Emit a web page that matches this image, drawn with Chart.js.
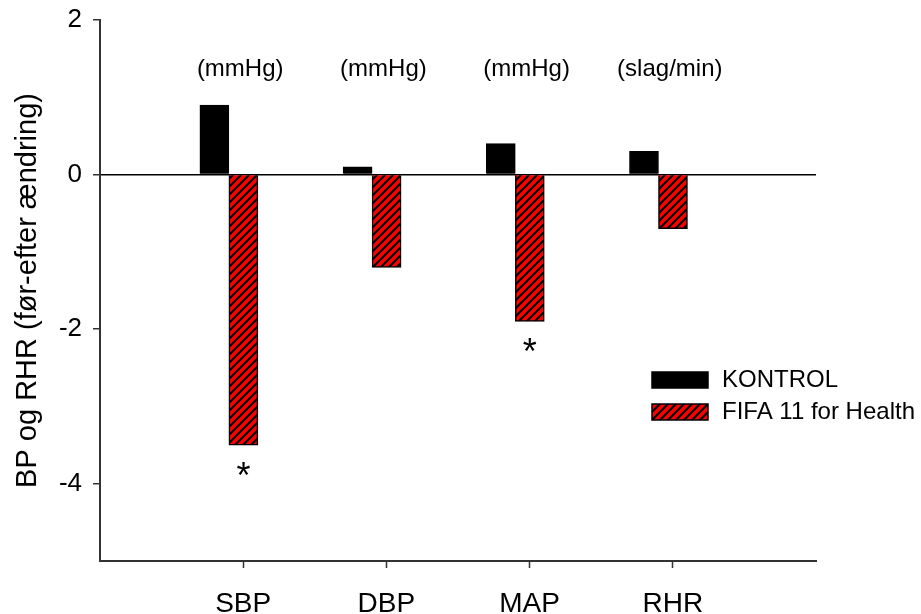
<!DOCTYPE html>
<html>
<head>
<meta charset="utf-8">
<script src="https://cdn.jsdelivr.net/npm/chart.js@4.4.0/dist/chart.umd.min.js"></script>
<style>
  body { margin: 0; background: #fff; }
  #wrap { width: 921px; height: 614px; }
</style>
</head>
<body>
<div id="wrap"><canvas id="chart" width="921" height="614"></canvas></div>
<script>
// blood pressure / resting heart rate change, control vs FIFA 11 group
const categories = ['SBP', 'DBP', 'MAP', 'RHR'];
const units = ['(mmHg)', '(mmHg)', '(mmHg)', '(slag/min)'];
const seriesNames = ['KONTROL', 'FIFA 11 for Health'];
const kontrol = [0.9, 0.1, 0.4, 0.3];
const fifa = [-3.5, -1.2, -1.9, -0.7];
const fifaStars = ['*', '', '*', ''];
const yTicks = [2, 0, -2, -4];

const FONT = '"Liberation Sans", Arial, sans-serif';
const AXIS = '#333';

// red fill with black "/" stripes
function hatch() {
  const c = document.createElement('canvas');
  c.width = 8; c.height = 8;
  const g = c.getContext('2d');
  g.fillStyle = '#ff0000';
  g.fillRect(0, 0, 8, 8);
  g.strokeStyle = '#000';
  g.lineWidth = 2.2;
  g.beginPath();
  g.moveTo(-1, 9); g.lineTo(9, -1);
  g.moveTo(-1, 1); g.lineTo(1, -1);
  g.moveTo(7, 9); g.lineTo(9, 7);
  g.stroke();
  return g.createPattern(c, 'repeat');
}
const redHatch = hatch();

const extras = {
  id: 'extras',
  afterDatasetsDraw(chart) {
    const ctx = chart.ctx;
    const xs = chart.scales.x;
    const area = chart.chartArea;
    ctx.save();
    ctx.fillStyle = '#000';

    // unit captions above each group
    ctx.font = `24px ${FONT}`;
    ctx.textAlign = 'center';
    ctx.textBaseline = 'middle';
    units.forEach((u, i) => ctx.fillText(u, xs.getPixelForValue(i + 1) - 3, area.top + 49));

    // significance marks under the FIFA bars
    const meta = chart.getDatasetMeta(1);
    ctx.font = `36px ${FONT}`;
    ctx.textBaseline = 'alphabetic';
    fifaStars.forEach((s, i) => {
      if (!s) return;
      const bar = meta.data[i];
      const m = ctx.measureText(s);
      const cy = bar.y + 24;
      ctx.fillText(s, bar.x, cy + (m.actualBoundingBoxAscent - m.actualBoundingBoxDescent) / 2);
    });

    // legend
    const lx = area.right - 164;
    const rows = [area.top + 360, area.top + 392];
    ctx.font = `24px ${FONT}`;
    ctx.textAlign = 'left';
    ctx.textBaseline = 'middle';
    chart.data.datasets.forEach((ds, i) => {
      const y = rows[i];
      ctx.fillStyle = ds.backgroundColor;
      ctx.fillRect(lx, y - 8, 56, 16);
      ctx.strokeStyle = '#000';
      ctx.lineWidth = 1.5;
      ctx.strokeRect(lx, y - 8, 56, 16);
      ctx.fillStyle = '#000';
      ctx.fillText(ds.label, lx + 70, y);
    });
    ctx.restore();
  }
};

new Chart(document.getElementById('chart'), {
  type: 'bar',
  data: {
    datasets: [
      {
        label: seriesNames[0],
        data: kontrol.map((v, i) => ({ x: i + 1, y: v })),
        backgroundColor: '#000',
        borderColor: '#000',
        borderWidth: 1,
        xAxisID: 'xb'
      },
      {
        label: seriesNames[1],
        data: fifa.map((v, i) => ({ x: i + 1, y: v })),
        backgroundColor: redHatch,
        borderColor: '#000',
        borderWidth: 1.5,
        xAxisID: 'xb'
      }
    ]
  },
  plugins: [extras],
  options: {
    responsive: false,
    animation: false,
    layout: { padding: { left: 0, right: 105, top: 20, bottom: 0 } },
    datasets: { bar: { barThickness: 29, grouped: true } },
    plugins: { legend: { display: false }, tooltip: { enabled: false } },
    scales: {
      x: {
        type: 'linear',
        min: 0,
        max: 5,
        offset: false,
        afterBuildTicks: s => { s.ticks = categories.map((c, i) => ({ value: i + 1 })); },
        afterFit: s => { s.height = 53; },
        grid: { offset: false, drawOnChartArea: false, tickLength: 7, tickColor: AXIS, tickWidth: 1.5 },
        border: { display: true, color: AXIS, width: 2 },
        ticks: {
          color: '#000',
          padding: 19,
          maxRotation: 0,
          font: { family: FONT, size: 28 },
          callback: v => categories[v - 1]
        }
      },
      // bar groups sit a little left of their category tick
      xb: {
        type: 'linear',
        display: false,
        min: 0.1,
        max: 5.1,
        offset: false,
        grid: { offset: false }
      },
      y: {
        min: -5,
        max: 2,
        afterBuildTicks: s => { s.ticks = yTicks.map(v => ({ value: v })); },
        afterFit: s => { s.width = 100; s.paddingTop = 0; s.paddingBottom = 0; },
        grid: {
          color: c => (c.tick && c.tick.value === 0 ? '#000' : 'rgba(0,0,0,0)'),
          lineWidth: 1.5,
          tickLength: 7,
          tickColor: AXIS,
          tickWidth: 1.5
        },
        border: { display: true, color: AXIS, width: 2 },
        ticks: {
          color: '#000',
          padding: 11,
          font: { family: FONT, size: 26 }
        },
        title: {
          display: true,
          text: 'BP og RHR (før-efter ændring)',
          color: '#000',
          font: { family: FONT, size: 29 },
          padding: { top: 11, bottom: 0 }
        }
      }
    }
  }
});
</script>
</body>
</html>
